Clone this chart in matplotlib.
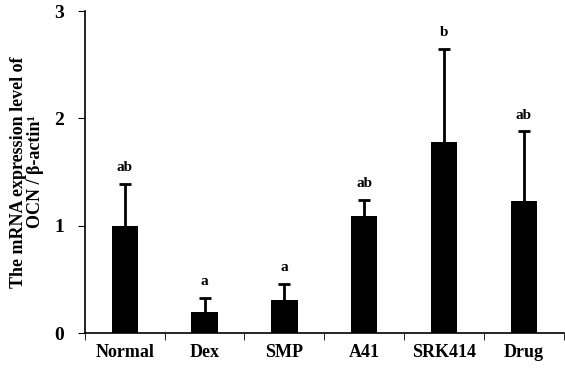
import matplotlib
matplotlib.use("Agg")
import matplotlib.pyplot as plt
import numpy as np

categories = ["Normal", "Dex", "SMP", "A41", "SRK414", "Drug"]
means = [1.00, 0.20, 0.31, 1.09, 1.78, 1.23]
errors = [0.39, 0.13, 0.15, 0.15, 0.87, 0.65]
letters = ["ab", "a", "a", "ab", "b", "ab"]

plt.rcParams['font.family'] = ['Liberation Serif', 'DejaVu Serif']
plt.rcParams['font.weight'] = 'bold'

fig = plt.figure(figsize=(5.65, 3.68), dpi=100)
ax = fig.add_axes([0.150, 0.095, 0.848, 0.875])

x = np.arange(len(categories))
ax.bar(x, means, width=0.33, color='black', zorder=2)
_, caplines, _ = ax.errorbar(x, means, yerr=[np.zeros(len(means)), errors], fmt='none',
                             ecolor='black', elinewidth=2, capsize=4, capthick=2, zorder=1)
caplines[0].set_visible(False)
for xi, m, e, l in zip(x, means, errors, letters):
    ax.text(xi, m + e + 0.09, l, ha='center', va='bottom', fontsize=11, fontweight='bold')

ax.set_xlim(-0.5, 5.5)
ax.set_ylim(0, 3)
ax.set_yticks([0, 1, 2, 3])
ax.set_yticklabels(['0', '1', '2', '3'], fontsize=14, fontweight='bold')
ax.set_xticks(x)
ax.set_xticklabels(categories, fontsize=13, fontweight='bold')
ax.tick_params(axis='x', which='major', length=0, pad=8)
ax.set_xticks(np.arange(-0.5, 5.6, 1), minor=True)
ax.tick_params(axis='x', which='minor', length=5, direction='out')
ax.tick_params(axis='y', length=5, direction='out', pad=10)
ax.spines['top'].set_visible(False)
ax.spines['right'].set_visible(False)
ax.spines['left'].set_linewidth(1.2)
ax.spines['bottom'].set_linewidth(1.2)
ax.set_ylabel("The mRNA expression level of\nOCN / β-actin¹", fontsize=13,
              fontweight='bold', labelpad=7, linespacing=1.0)

fig.savefig("out.png", dpi=100)
